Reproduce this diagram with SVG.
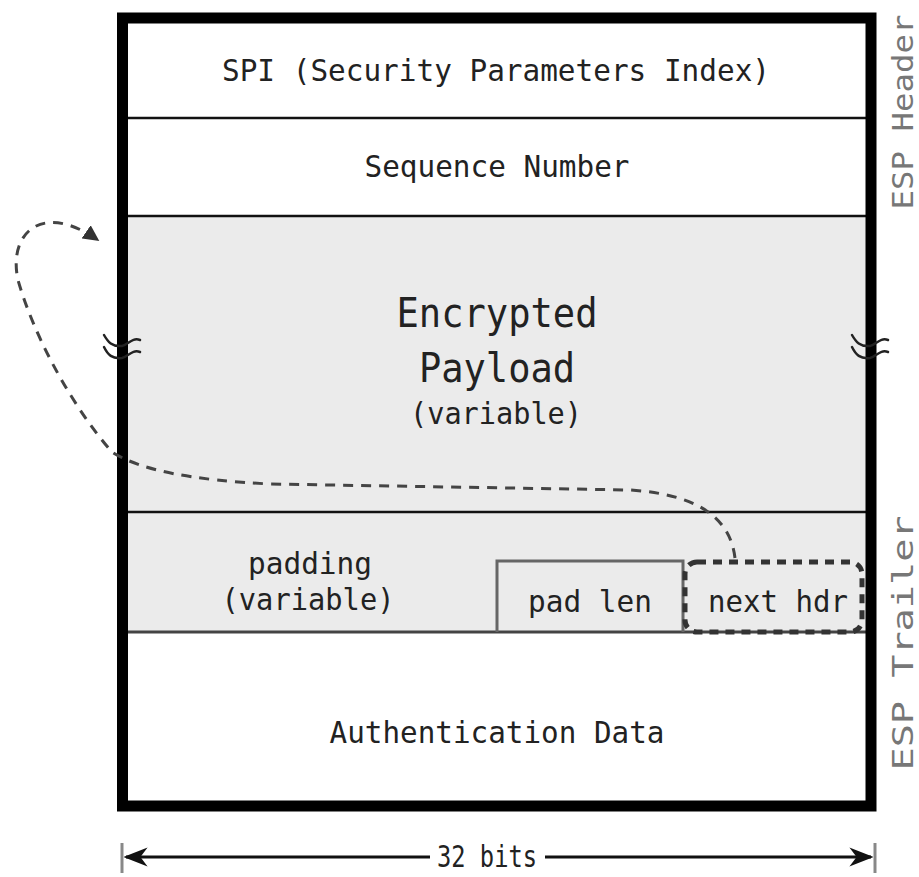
<svg xmlns="http://www.w3.org/2000/svg" width="919" height="877" viewBox="0 0 919 877">
<defs>
<style>
.t{font-family:"DejaVu Sans Mono","Liberation Mono",monospace;font-size:31px;fill:#222;text-anchor:middle}
.big{font-size:40px}
.side{font-family:"DejaVu Sans Mono","Liberation Mono",monospace;font-size:29px;fill:#777;text-anchor:middle}
.sep{stroke:#111;stroke-width:2.5;fill:none}
.brk{stroke:#222;stroke-width:2.5;fill:none;stroke-linecap:round}
</style>
<marker id="ah" viewBox="0 0 10 10" refX="9" refY="5" markerWidth="16" markerHeight="16" markerUnits="userSpaceOnUse" orient="auto">
<path d="M0,0 L10,5 L0,10 z" fill="#333"/>
</marker>
<marker id="ah2" viewBox="0 0 10 10" refX="9" refY="5" markerWidth="24" markerHeight="24" markerUnits="userSpaceOnUse" orient="auto-start-reverse">
<path d="M0,1 L10,5 L0,9 L3,5 z" fill="#111"/>
</marker>
</defs>
<rect x="0" y="0" width="919" height="877" fill="#fff"/>
<g id="gray-area">
<rect x="128" y="217" width="738" height="415" fill="#ebebeb"/>
</g>
<g id="spi">
<text class="t" x="496" y="81" textLength="548" lengthAdjust="spacingAndGlyphs">SPI (Security Parameters Index)</text>
</g>
<g id="seq">
<line class="sep" x1="128" y1="118" x2="866" y2="118"/>
<text class="t" x="497" y="177" textLength="265" lengthAdjust="spacingAndGlyphs">Sequence Number</text>
</g>
<g id="payload">
<line class="sep" x1="128" y1="216" x2="866" y2="216"/>
<text class="t big" x="497" y="327" textLength="201" lengthAdjust="spacingAndGlyphs">Encrypted</text>
<text class="t big" x="497" y="382" textLength="156" lengthAdjust="spacingAndGlyphs">Payload</text>
<text class="t" x="496" y="424" textLength="172" lengthAdjust="spacingAndGlyphs">(variable)</text>
</g>
<g id="padding">
<line class="sep" x1="128" y1="512" x2="866" y2="512"/>
<text class="t" x="310" y="574" textLength="124" lengthAdjust="spacingAndGlyphs">padding</text>
<text class="t" x="308" y="610" textLength="173" lengthAdjust="spacingAndGlyphs">(variable)</text>
<line x1="128" y1="632" x2="866" y2="632" stroke="#444" stroke-width="3"/>
</g>
<g id="padlen">
<path d="M497,632 V561 H683 V632" fill="none" stroke="#666" stroke-width="3"/>
<text class="t" x="590" y="612" textLength="124" lengthAdjust="spacingAndGlyphs">pad len</text>
</g>
<g id="nexthdr">
<rect x="685" y="562" width="177" height="70" rx="12" fill="none" stroke="#333" stroke-width="5" stroke-dasharray="9 7"/>
<text class="t" x="778" y="612" textLength="140" lengthAdjust="spacingAndGlyphs">next hdr</text>
</g>
<g id="auth">
<text class="t" x="497" y="743" textLength="335" lengthAdjust="spacingAndGlyphs">Authentication Data</text>
</g>
<g id="frame">
<rect x="122.5" y="18" width="748.5" height="788" fill="none" stroke="#000" stroke-width="11"/>
</g>
<g id="breaks">
<path class="brk" d="M104,335 C108,342 112,347 122,346 C128,345 132,337 140,340 M104,347 C108,355 112,359 122,358 C128,357 132,349 140,352"/>
<path class="brk" d="M852,335 C856,342 860,347 870,346 C876,345 880,337 888,340 M852,347 C856,355 860,359 870,358 C876,357 880,349 888,352"/>
</g>
<g id="labels">
<text class="side" transform="translate(913,112) rotate(-90)" textLength="195" lengthAdjust="spacingAndGlyphs">ESP Header</text>
<text class="side" transform="translate(913,643) rotate(-90)" textLength="255" lengthAdjust="spacingAndGlyphs">ESP Trailer</text>
</g>
<g id="connectors">
<path d="M735,558 C731,525 708,495 630,490 L270,484 C190,480 140,470 112,452 C75,410 35,340 18,280 C8,235 40,200 98,240" fill="none" stroke="#444" stroke-width="3" stroke-dasharray="10 8" marker-end="url(#ah)"/>
<line x1="122" y1="843" x2="122" y2="873" stroke="#888" stroke-width="3"/>
<line x1="875" y1="843" x2="875" y2="873" stroke="#888" stroke-width="3"/>
<line x1="126" y1="857" x2="430" y2="857" stroke="#111" stroke-width="3" marker-start="url(#ah2)"/>
<line x1="545" y1="857" x2="871" y2="857" stroke="#111" stroke-width="3" marker-end="url(#ah2)"/>
<text class="t" x="487" y="867" font-size="28" textLength="100" lengthAdjust="spacingAndGlyphs">32 bits</text>
</g>
</svg>
